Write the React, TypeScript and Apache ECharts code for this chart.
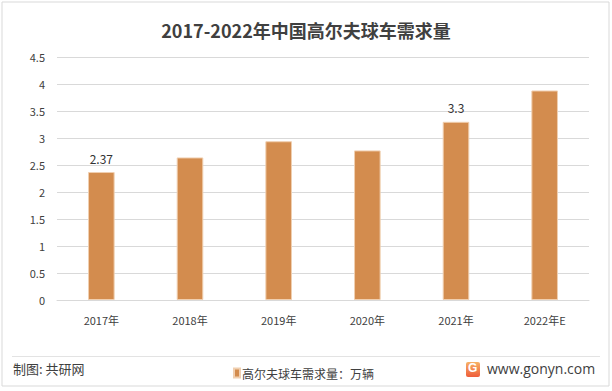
import React, { useEffect, useRef } from "react";
import * as echarts from "echarts";

const categories = ["2017年", "2018年", "2019年", "2020年", "2021年", "2022年E"];
const demand = [2.37, 2.64, 2.94, 2.77, 3.3, 3.88];
const labeledIndices = [0, 4];
const seriesName = "高尔夫球车需求量：万辆";
const titleText = "2017-2022年中国高尔夫球车需求量";

export default function App() {
  const ref = useRef<HTMLDivElement>(null);
  useEffect(() => {
    document.body.style.margin = "0";
    const chart = echarts.init(ref.current!, null, { renderer: "svg" });
    const font = "'Microsoft YaHei', 'Noto Sans CJK SC', sans-serif";
    chart.setOption({
      animation: false,
      backgroundColor: "#ffffff",
      textStyle: { fontFamily: font },
      title: {
        text: titleText,
        left: "center",
        top: 16,
        textStyle: { fontSize: 18, fontWeight: "bold", color: "#404040", fontFamily: font },
      },
      grid: { left: 57, right: 23, top: 57, bottom: 91 },
      legend: {
        left: 228,
        top: 362,
        icon: "rect",
        itemWidth: 6,
        itemHeight: 9,
        itemGap: 2,
        textStyle: { fontSize: 12, color: "#404040", fontFamily: font, padding: [0, 0, 0, -3] },
        data: [seriesName],
      },
      xAxis: {
        type: "category",
        data: categories,
        axisLine: { lineStyle: { color: "#D9D9D9" } },
        axisTick: { show: false },
        axisLabel: { color: "#404040", fontSize: 11, margin: 14, fontFamily: font },
      },
      yAxis: {
        type: "value",
        min: 0,
        max: 4.5,
        interval: 0.5,
        axisLine: { show: false },
        axisTick: { show: false },
        splitLine: { lineStyle: { color: "#D9D9D9" } },
        axisLabel: { color: "#404040", fontSize: 11, margin: 12, fontFamily: font },
      },
      series: [
        {
          name: seriesName,
          type: "bar",
          barWidth: "30%",
          itemStyle: { color: "#D38C4E", borderColor: "#F0CFB0", borderWidth: 1 },
          data: demand.map((v, i) => ({
            value: v,
            label: {
              show: labeledIndices.includes(i),
              position: "top",
              distance: 8,
              color: "#333333",
              fontSize: 12,
              fontFamily: font,
            },
          })),
        },
      ],
      graphic: [
        {
          type: "rect",
          shape: { x: 2, y: 2, width: 607, height: 384 },
          style: { fill: "none", stroke: "#D9D9D9", lineWidth: 1 },
          silent: true,
        },
        {
          type: "line",
          shape: { x1: 12, y1: 356.5, x2: 600, y2: 356.5 },
          style: { stroke: "#E3E3E3", lineWidth: 1 },
        },
        {
          type: "text",
          left: 13,
          top: 362,
          style: { text: "制图: 共研网", fontSize: 13, fill: "#404040", fontFamily: font },
        },
        {
          type: "rect",
          shape: { x: 466, y: 362, width: 14, height: 15, r: 2 },
          style: {
            fill: new echarts.graphic.LinearGradient(0, 0, 0, 1, [
              { offset: 0, color: "#F7B267" },
              { offset: 1, color: "#EE5D3A" },
            ]),
          },
        },
        {
          type: "text",
          left: 468,
          top: 362,
          style: { text: "G", fontSize: 12, fontWeight: "bold", fill: "#ffffff", fontFamily: "Arial, sans-serif" },
        },
        {
          type: "text",
          left: 487,
          top: 361,
          style: { text: "www.gonyn.com", fontSize: 14, fill: "#404040", fontFamily: "'Open Sans', Arial, sans-serif" },
        },
      ],
    });
    return () => chart.dispose();
  }, []);
  return <div ref={ref} style={{ width: 612, height: 391, position: "absolute", left: 0, top: 0 }} />;
}
